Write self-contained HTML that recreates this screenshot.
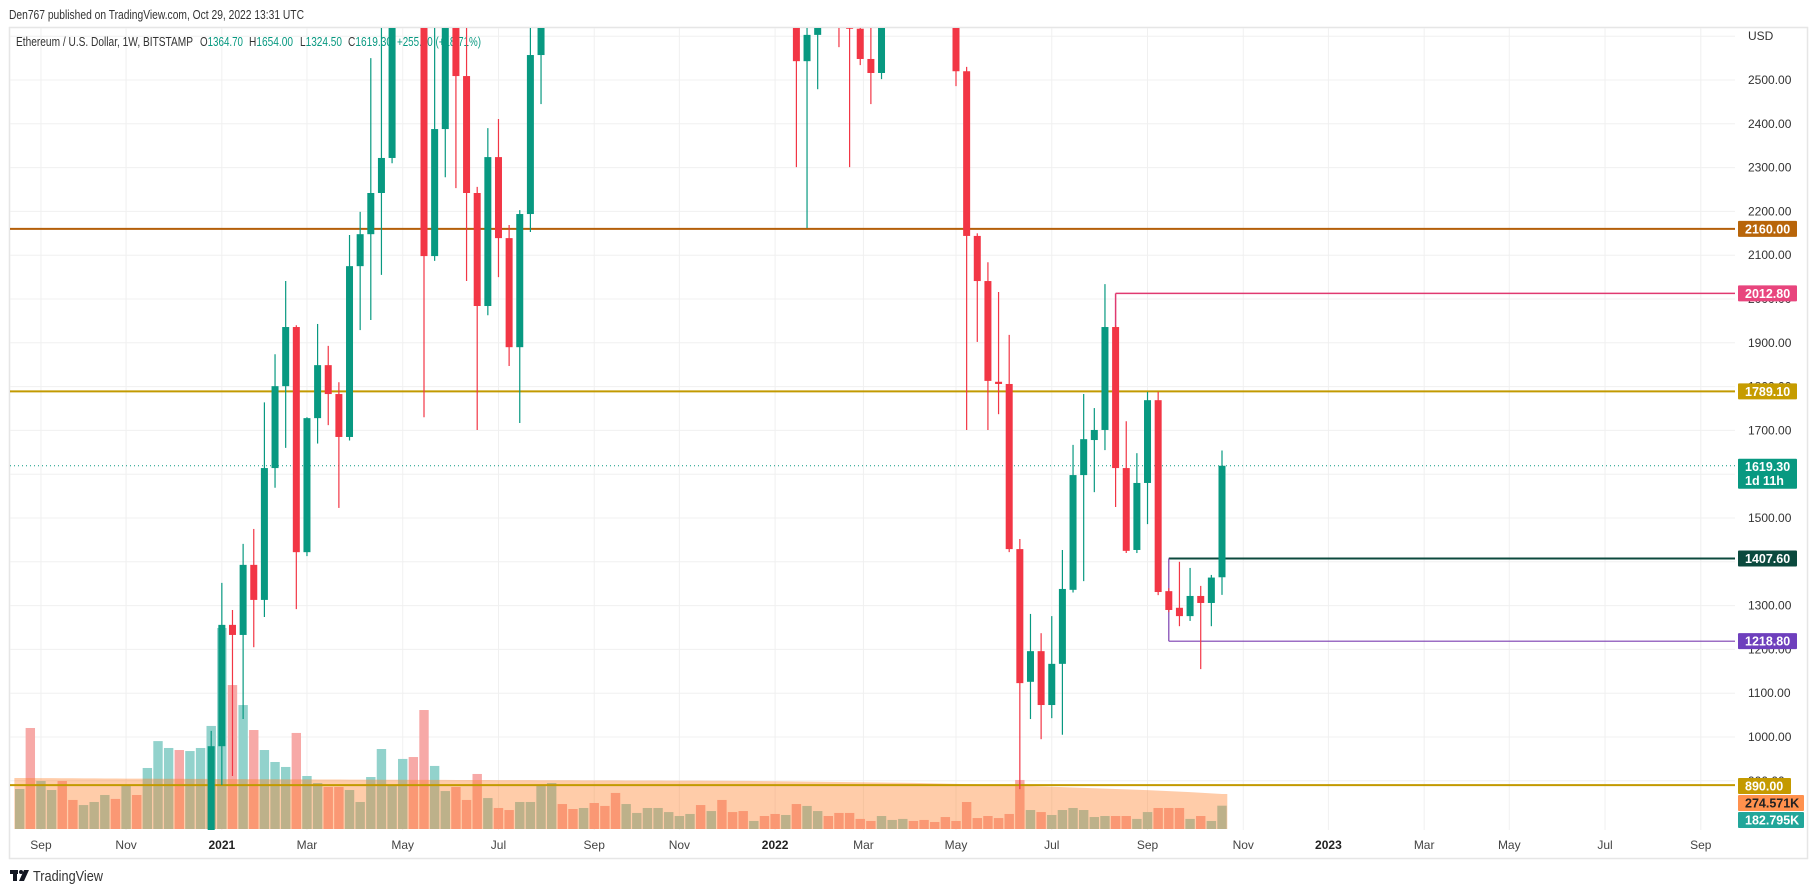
<!DOCTYPE html>
<html><head><meta charset="utf-8">
<style>
html,body{margin:0;padding:0;background:#fff;width:1818px;height:893px;overflow:hidden;}
svg{display:block;font-family:"Liberation Sans",sans-serif;}
</style></head>
<body>
<svg id="chart" width="1818" height="893" viewBox="0 0 1818 893" xmlns="http://www.w3.org/2000/svg">
  <defs><clipPath id="plotClip"><rect x="10" y="28" width="1725" height="802"/></clipPath></defs>
  <rect width="1818" height="893" fill="#ffffff"/>
  <text x="9" y="19" font-size="13" fill="#333" textLength="295" lengthAdjust="spacingAndGlyphs">Den767 published on TradingView.com, Oct 29, 2022 13:31 UTC</text>
  <rect x="9.5" y="27.5" width="1798" height="831" fill="none" stroke="#e6e6e6" stroke-width="1.5"/>
  <g id="grid"></g>
  <g id="legendG">
    <text x="16" y="46" font-size="13" fill="#333" textLength="177" lengthAdjust="spacingAndGlyphs">Ethereum / U.S. Dollar, 1W, BITSTAMP</text>
    <text x="200" y="46" font-size="13" fill="#089981" textLength="43" lengthAdjust="spacingAndGlyphs"><tspan fill="#333">O</tspan>1364.70</text>
    <text x="249" y="46" font-size="13" fill="#089981" textLength="44" lengthAdjust="spacingAndGlyphs"><tspan fill="#333">H</tspan>1654.00</text>
    <text x="300" y="46" font-size="13" fill="#089981" textLength="42" lengthAdjust="spacingAndGlyphs"><tspan fill="#333">L</tspan>1324.50</text>
    <text x="348" y="46" font-size="13" fill="#089981" textLength="44" lengthAdjust="spacingAndGlyphs"><tspan fill="#333">C</tspan>1619.30</text>
    <text x="397" y="46" font-size="13" fill="#089981" textLength="84" lengthAdjust="spacingAndGlyphs">+255.20 (+18.71%)</text>
  </g>
  <g id="vol" clip-path="url(#plotClip)"></g>
  <g id="lines"></g>
  <g id="candles" clip-path="url(#plotClip)"></g>
  <g id="axis"></g>
  <g id="taxis"></g>
  <g>
    <rect x="10" y="870" width="8" height="4" fill="#131722"/>
    <rect x="13" y="870" width="4" height="11" fill="#131722"/>
    <circle cx="21" cy="872" r="2" fill="#131722"/>
    <polygon points="24,870 29,870 24,881 19,881" fill="#131722"/>
    <text x="33" y="881" font-size="15" fill="#333" textLength="70" lengthAdjust="spacingAndGlyphs">TradingView</text>
  </g>
</svg>
<script>
const opens=[390,430,335,365,370,355,345,370,372,405,385,455,450,510,575,585,575,640,690,979,1256,1233,1393,1313,1614,1801,1936,1422,1728,1849,1783,1685,2075,2148,2242,2322,2950,3900,3580,2098,2388,2700,2509,2242,1984,2324,2139,1890,2194,2557,3010,3310,3220,3210,3930,3420,3330,3060,3420,3580,3840,4060,4290,4610,4650,4090,4300,4120,3950,3920,4050,3760,3200,3330,2543,2603,3050,2880,2625,2617,2548,2516,2940,3280,3450,3030,2990,2920,2830,2520,2144,2041,1811,1806,1429,1126,1196,1073,1167,1336,1598,1678,1701,1936,1614,1427,1580,1769,1333,1295,1276,1322,1306,1364.7];
const highs=[440,490,390,395,375,365,375,390,420,415,460,480,520,620,630,600,660,700,1014,1352,1290,1441,1475,1764,1874,2041,1940,1730,1943,1893,1810,2146,2199,2550,2645,2960,3980,4380,3600,2900,2890,2890,2640,2256,2390,2411,2169,2203,2700,3180,3330,3340,3380,4030,3970,3680,3440,3490,3650,3880,4380,4460,4670,4870,4680,4560,4780,4370,4100,4130,4080,3840,3420,3420,2750,3090,3280,3200,2900,3050,2760,2990,3300,3480,3580,3150,3190,3030,2960,2530,2150,2084,2016,1918,1452,1281,1237,1276,1427,1667,1783,1751,2034,1940,1721,1648,1788,1788,1340,1400,1386,1345,1370,1654];
const lows=[375,310,325,355,310,330,335,360,365,370,380,440,440,480,560,530,575,550,690,890,911,1041,1205,1274,1569,1660,1292,1413,1670,1712,1523,1677,1929,1952,2055,2310,2930,3400,1730,2087,2278,2253,2041,1701,1963,2050,1847,1717,2153,2445,2950,2940,3060,3200,3000,3270,2700,2800,3280,3370,3670,3900,4150,4500,3960,3920,3500,3800,3650,3880,3620,2990,2950,2301,2162,2479,2860,2575,2301,2534,2445,2502,2920,3200,3000,2950,2900,2780,2486,1701,1902,1701,1737,1422,881,1041,995,1043,1005,1330,1356,1559,1655,1525,1420,1420,1486,1324,1285,1253,1265,1155,1253,1324.5];
const closes=[430,335,365,370,355,345,370,372,405,385,455,450,510,575,585,575,640,690,979,1256,1233,1393,1313,1614,1801,1936,1422,1728,1849,1783,1685,2075,2148,2242,2322,2950,3900,3580,2098,2388,2700,2509,2242,1984,2324,2139,1890,2194,2557,3010,3310,3220,3210,3930,3420,3330,3060,3420,3580,3840,4060,4290,4610,4650,4090,4300,4120,3950,3920,4050,3760,3200,3330,2543,2603,3050,2880,2620,2617,2548,2516,2940,3280,3450,3030,2990,2920,2830,2520,2144,2041,1813,1806,1429,1123,1196,1073,1167,1338,1598,1680,1701,1936,1614,1425,1580,1769,1331,1290,1276,1322,1306,1364,1619.3];
const volumes=[314,793,377,306,377,228,188,212,267,236,345,267,479,690,636,620,612,636,809,1578,1130,973,777,620,526,487,754,416,361,330,330,306,212,408,628,345,550,565,934,495,298,330,228,432,243,165,149,212,212,338,361,196,157,165,204,181,283,196,126,165,165,133,102,118,188,141,228,133,141,63,102,118,110,196,181,141,102,126,126,79,63,102,71,79,63,71,55,94,63,212,86,102,86,118,385,149,133,110,149,165,149,94,102,102,102,79,133,165,165,165,79,102,63,183];
const volumeMA=[400,400,399,399,398,398,397,397,396,396,395,395,395,394,394,394,393,393,393,392,392,392,391,391,391,390,390,390,389,389,389,388,388,388,387,387,387,386,386,386,386,385,385,385,385,384,384,384,384,383,383,383,383,382,382,382,382,381,381,381,381,380,380,380,380,379,379,378,378,377,376,375,374,373,372,371,370,369,368,367,366,365,364,363,362,360,358,356,354,352,350,348,346,344,341,338,335,332,329,326,323,320,317,314,311,308,305,301,297,293,289,285,280,275];
const priceTicks=[2500,2400,2300,2200,2100,2000,1900,1800,1700,1600,1500,1400,1300,1200,1100,1000,900];
const monthLabels=["Sep","Nov","2021","Mar","May","Jul","Sep","Nov","2022","Mar","May","Jul","Sep","Nov","2023","Mar","May","Jul","Sep"];
const monthWeekIndex=[2,10,19,27,36,45,54,62,71,79.3,88,97,106,115,123,132,140,149,158];
const levelPrices=[2160,2012.8,1789.1,1407.6,1218.8,890];
const lastPrice=1619.3;
const maLast=274.571, volLast=182.795;

const NS="http://www.w3.org/2000/svg";
const N=opens.length;
const X_LAST=1222, STEP=10.64;
function xOf(i){return X_LAST-(N-1-i)*STEP;}
function yOf(p){return 80+(2500-p)*0.438;}
function cy(p){return Math.max(20,Math.min(835,yOf(p)));}
const VOL_BASE=829, VOL_PER_PX=7.85;
function vy(v){return VOL_BASE-v/VOL_PER_PX;}
function mk(tag,attrs,parent){const e=document.createElementNS(NS,tag);for(const k in attrs)e.setAttribute(k,attrs[k]);parent.appendChild(e);return e;}
const UP="#089981", DN="#f23645";

const grid=document.getElementById('grid');
priceTicks.forEach(p=>{const l=mk('line',{x1:10,x2:1735,y1:yOf(p),y2:yOf(p),stroke:'#f0f0f0','stroke-width':1},grid);

});
const g2600=mk('line',{x1:10,x2:1735,y1:yOf(2600),y2:yOf(2600),stroke:'#f0f0f0'},grid);


monthWeekIndex.forEach(w=>{const x=xOf(w);const l=mk('line',{x1:x,x2:x,y1:28,y2:830,stroke:'#f0f0f0','stroke-width':1},grid);

});

const vol=document.getElementById('vol');
volumes.forEach((v,i)=>{const up=closes[i]>=opens[i];
const r=mk('rect',{x:xOf(i)-4.7,y:vy(v),width:9.4,height:v/VOL_PER_PX,fill:up?'#92d2cc':'#f7a9a7'},vol);

});
let d="M"+(xOf(0)-5.3)+","+VOL_BASE;
volumeMA.forEach((m,i)=>{d+=" L"+(i===0?xOf(0)-5.3:xOf(i))+","+vy(m);});
d+=" L"+(xOf(N-1)+5.3)+","+vy(volumeMA[N-1])+" L"+(xOf(N-1)+5.3)+","+VOL_BASE+" Z";
const area=mk('path',{d:d,fill:'rgba(255,128,40,0.4)'},vol);



const lines=document.getElementById('lines');
function hl(x1,p,color,w,name,dash){const l=mk('line',{x1:x1,x2:1735,y1:yOf(p),y2:yOf(p),stroke:color,'stroke-width':w},lines);if(dash)l.setAttribute('stroke-dasharray',dash);

return l;}
hl(10,levelPrices[0],'#b45f0a',2,'resistance-2160-line');
hl(xOf(103),levelPrices[1],'#e03a70',1.5,'high-2012-line');
const v1=mk('line',{x1:xOf(103),x2:xOf(103),y1:yOf(levelPrices[1]),y2:yOf(opens[103]),stroke:'#e03a70','stroke-width':1.5},lines);


hl(10,levelPrices[2],'#c29a00',2,'resistance-1789-line');
hl(10,lastPrice,'#089981',1,'last-price-line','1,3');
hl(xOf(108),levelPrices[3],'#0c4a3e',2,'level-1407-line');
hl(xOf(108),levelPrices[4],'#7b3fb0',1.2,'support-1218-line');
const v2=mk('line',{x1:xOf(108),x2:xOf(108),y1:yOf(levelPrices[3]),y2:yOf(levelPrices[4]),stroke:'#7b3fb0','stroke-width':1.2},lines);



const cg=document.getElementById('candles');
for(let i=0;i<N;i++){const up=closes[i]>=opens[i];const c=up?UP:DN;const x=xOf(i);
const w=mk('line',{x1:x,x2:x,y1:cy(highs[i]),y2:cy(lows[i]),stroke:c,'stroke-width':1.2},cg);


const top=cy(Math.max(opens[i],closes[i])),bot=cy(Math.min(opens[i],closes[i]));
const b=mk('rect',{x:x-3.5,y:top,width:7,height:Math.max(1.5,bot-top),fill:c},cg);

}
hl(10,levelPrices[5],'#c29a00',2,'support-890-line');

const ax=document.getElementById('axis');
const usd=mk('text',{x:1748,y:40,'font-size':12,fill:'#333'},ax);usd.textContent='USD';


priceTicks.forEach(p=>{const t=mk('text',{x:1748,y:yOf(p)+4,'font-size':12,fill:'#333'},ax);t.textContent=p.toFixed(2);

});
function box(y,h,bg,txt,name,w,fg){const g=mk('g',{},ax);


mk('rect',{x:1738,y:y,width:w||59,height:h,fill:bg,rx:1},g);
txt.forEach((s,k)=>{const t=mk('text',{x:1745,y:y+12.5+k*14,'font-size':12.5,'font-weight':'bold',fill:fg||'#fff'},g);t.textContent=s;});}
box(yOf(levelPrices[0])-8,16,'#b8650a',['2160.00'],'label-2160');
box(yOf(levelPrices[1])-8,16,'#e8457d',['2012.80'],'label-2012');
box(yOf(levelPrices[2])-8,16,'#c69c00',['1789.10'],'label-1789');
box(yOf(lastPrice)-7,30,'#089981',['1619.30','1d 11h'],'label-last-price');
box(yOf(levelPrices[3])-8,16,'#0b4a3e',['1407.60'],'label-1407');
box(yOf(levelPrices[4])-8,16,'#6e3fbd',['1218.80'],'label-1218');
box(778,16,'#c49a00',['890.00'],'label-890',53);
box(795,16,'#ff914d',[maLast.toFixed(3)+'K'],'label-volume-ma',66,'#222');
box(812,16,'#22a69a',[volLast.toFixed(3)+'K'],'label-volume',66);

const ta=document.getElementById('taxis');
monthLabels.forEach((m,k)=>{const yr=/^\d{4}$/.test(m);const t=mk('text',{x:xOf(monthWeekIndex[k]),y:849,'font-size':12,'text-anchor':'middle',fill:yr?'#222':'#444','font-weight':yr?'bold':'normal'},ta);t.textContent=m;

});
</script>
</body></html>
